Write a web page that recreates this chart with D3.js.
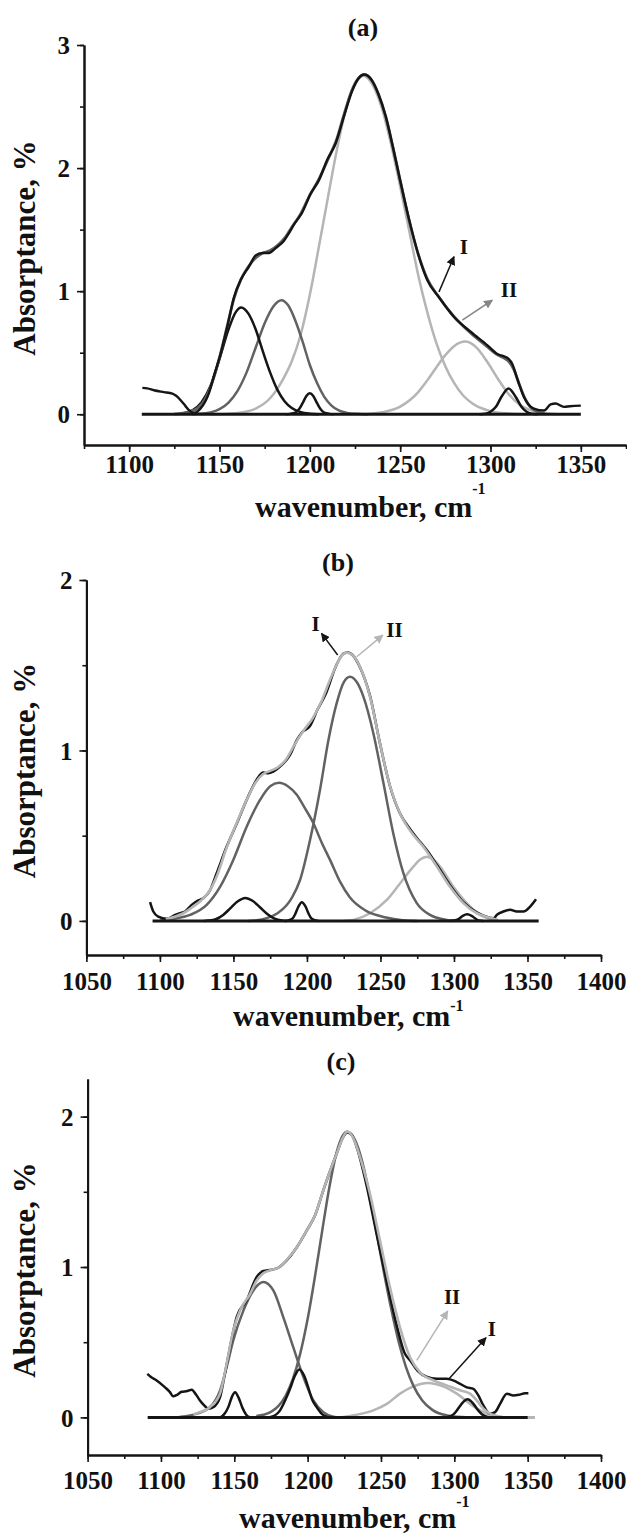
<!DOCTYPE html>
<html>
<head>
<meta charset="utf-8">
<script src="https://cdn.jsdelivr.net/npm/d3@7"></script>
<style>
  body { margin: 0; background: #fff; }
  svg { display: block; }
  text { font-family: 'Liberation Serif', 'Times New Roman', serif; font-weight: bold; fill: #111; }
</style>
</head>
<body>
<svg id="chart" width="627" height="1533"></svg>
<script>
// ---- panel (a) ----
const aMeasured = [[1107.3,0.214],[1110,0.21],[1113.7,0.195],[1119.2,0.18],[1123.9,0.168],[1126,0.15],[1128.5,0.114],[1131,0.07],[1133.1,0.033],[1135.8,0.01],[1139.5,0.046],[1144.1,0.17],[1147.3,0.33],[1150.6,0.49],[1154.3,0.71],[1158,0.95],[1161.7,1.09],[1166.3,1.2],[1170,1.29],[1173.7,1.31],[1177.4,1.31],[1181.1,1.35],[1185.7,1.41],[1188.4,1.47],[1191.2,1.54],[1195.8,1.64],[1200.4,1.79],[1205,1.9],[1209.7,2.07],[1214.3,2.2],[1218.9,2.42],[1223.5,2.63],[1227,2.73],[1230,2.76],[1234,2.72],[1238,2.6],[1242,2.42],[1246,2.17],[1250,1.9],[1255,1.58],[1260,1.3],[1265,1.09],[1271.5,0.95],[1279.8,0.79],[1289,0.67],[1298.3,0.56],[1303.8,0.49],[1307.5,0.47],[1310,0.45],[1312,0.41],[1315,0.28],[1318.5,0.14],[1321,0.08],[1324,0.046],[1329.6,0.03],[1333.3,0.08],[1336,0.087],[1340.7,0.06],[1344,0.065],[1350,0.07]]
const aEnvelope = [[1128,0.005],[1133,0.02],[1138,0.05],[1142,0.12],[1146,0.26],[1150,0.46],[1154,0.7],[1158,0.94],[1162,1.1],[1166,1.2],[1170,1.27],[1174,1.31],[1178,1.33],[1182,1.37],[1186,1.43],[1190,1.52],[1195,1.63],[1200,1.78],[1205,1.91],[1210,2.07],[1215,2.24],[1219,2.44],[1223,2.62],[1227,2.73],[1230,2.76],[1234,2.72],[1238,2.6],[1242,2.42],[1246,2.17],[1250,1.9],[1255,1.57],[1260,1.3],[1265,1.1],[1271,0.96],[1280,0.79],[1289,0.66],[1298,0.55],[1303,0.49],[1307,0.46],[1310,0.43],[1313,0.36],[1316,0.24],[1319,0.13],[1322,0.06],[1326,0.02],[1330,0.005]]
const aPeak1162 = [[1125,0.002],[1130,0.008],[1135,0.032],[1140,0.096],[1145,0.23],[1150,0.45],[1155,0.69],[1159,0.83],[1162,0.867],[1166,0.817],[1170,0.69],[1174,0.51],[1178,0.34],[1182,0.2],[1186,0.106],[1190,0.05],[1195,0.016],[1200,0.004],[1205,0]]
const aPeak1184 = [[1135,0],[1140,0.005],[1145,0.015],[1150,0.041],[1155,0.095],[1160,0.19],[1165,0.34],[1170,0.54],[1175,0.74],[1180,0.88],[1184.3,0.927],[1188,0.885],[1192,0.76],[1196,0.59],[1200,0.4],[1204,0.253],[1208,0.141],[1212,0.07],[1216,0.031],[1220,0.013],[1226,0.003],[1232,0]]
const aPeak1200 = [[1187,0],[1189,0.003],[1192,0.013],[1194,0.04],[1196,0.09],[1198,0.146],[1200,0.17],[1202,0.146],[1204,0.09],[1206,0.04],[1208,0.013],[1211,0.003],[1213,0]]
const aPeak1230 = [[1145,0],[1150,0.002],[1160,0.01],[1170,0.046],[1178,0.13],[1185,0.28],[1190,0.43],[1195,0.65],[1200,0.97],[1205,1.36],[1210,1.76],[1215,2.15],[1220,2.48],[1225,2.69],[1229.5,2.75],[1235,2.67],[1240,2.48],[1245,2.19],[1250,1.85],[1255,1.49],[1260,1.13],[1265,0.83],[1270,0.58],[1275,0.39],[1280,0.25],[1285,0.15],[1290,0.087],[1300,0.025],[1310,0.006],[1320,0]]
const aPeak1286 = [[1230,0],[1240,0.016],[1250,0.062],[1260,0.18],[1265,0.275],[1270,0.38],[1275,0.48],[1280,0.555],[1286,0.59],[1292,0.545],[1298,0.43],[1304,0.29],[1310,0.164],[1316,0.08],[1322,0.033],[1330,0.008],[1338,0]]
const aPeak1310 = [[1294,0],[1297,0.003],[1300,0.02],[1303,0.06],[1306,0.14],[1310,0.21],[1314,0.14],[1317,0.063],[1320,0.02],[1323,0.003],[1326,0]]
const aBaseline = [[1107,0],[1350,0]]

// ---- panel (b) ----
const bMeasured = [[1093.3,0.11],[1095.5,0.055],[1098.9,0.025],[1104.6,0.012],[1110.3,0.035],[1113.7,0.045],[1117.1,0.055],[1121.6,0.094],[1126.1,0.12],[1129.5,0.133],[1134.1,0.18],[1138.6,0.28],[1145.4,0.436],[1152.2,0.57],[1159,0.71],[1165.9,0.83],[1170.3,0.87],[1173.7,0.866],[1177.1,0.876],[1182.9,0.915],[1188.5,0.974],[1193.1,1.06],[1197,1.11],[1201.8,1.14],[1207.2,1.24],[1212.7,1.33],[1219.5,1.49],[1225,1.57],[1228,1.575],[1231,1.56],[1236,1.49],[1242.9,1.32],[1249.7,1.04],[1256.5,0.79],[1263.3,0.63],[1270.1,0.54],[1276.8,0.465],[1282,0.41],[1288.3,0.33],[1297.3,0.21],[1306.4,0.11],[1315.5,0.05],[1322,0.025],[1327,0.015],[1329.1,0.035],[1333.6,0.055],[1338.2,0.065],[1342.7,0.055],[1347.3,0.055],[1351.8,0.084],[1355.8,0.127]]
const bEnvelope = [[1104,0.01],[1110,0.025],[1116,0.045],[1122,0.08],[1128,0.12],[1134,0.18],[1139,0.27],[1145,0.42],[1152,0.57],[1159,0.71],[1165,0.81],[1170,0.86],[1175,0.88],[1180,0.9],[1186,0.95],[1192,1.04],[1198,1.12],[1204,1.19],[1210,1.29],[1215,1.4],[1220,1.5],[1224,1.56],[1227,1.574],[1231,1.56],[1236.1,1.49],[1242.9,1.316],[1249.7,1.04],[1256.5,0.79],[1263.3,0.63],[1270.1,0.53],[1279.1,0.436],[1288.3,0.32],[1297.3,0.2],[1306.4,0.104],[1315.5,0.045],[1324.6,0.018],[1330,0.005]]
const bPeak1158 = [[1130,0],[1133,0.002],[1138,0.01],[1143,0.035],[1148,0.075],[1153,0.115],[1158,0.135],[1163,0.118],[1168,0.08],[1173,0.04],[1178,0.013],[1183,0.002],[1186,0]]
const bPeak1197 = [[1185,0],[1187,0.002],[1190,0.012],[1192,0.04],[1194,0.08],[1196.5,0.11],[1199,0.085],[1201,0.045],[1203,0.015],[1206,0.002],[1208,0]]
const bPeak1181 = [[1100,0.002],[1105,0.005],[1109.1,0.012],[1120.5,0.035],[1131.8,0.094],[1140.9,0.2],[1149.9,0.358],[1159,0.553],[1168.1,0.71],[1175,0.79],[1181,0.81],[1187,0.79],[1193.1,0.74],[1198,0.67],[1204.4,0.573],[1210,0.46],[1215.7,0.358],[1222.5,0.23],[1229,0.14],[1240,0.06],[1253.7,0.02],[1265,0.004],[1275,0]]
const bPeak1229 = [[1160,0],[1165,0.003],[1172.7,0.016],[1180,0.045],[1186,0.09],[1190,0.14],[1195.3,0.24],[1202.1,0.475],[1208.9,0.77],[1214.6,1.06],[1220,1.27],[1225,1.4],[1229.3,1.433],[1234,1.4],[1238.4,1.316],[1245.2,1.1],[1252,0.81],[1258.8,0.51],[1265.6,0.28],[1274.7,0.104],[1283.7,0.035],[1295.1,0.006],[1300,0]]
const bPeak1281 = [[1225,0],[1231.6,0.006],[1242.9,0.045],[1254.3,0.123],[1263.3,0.22],[1272.4,0.318],[1277,0.36],[1281.5,0.377],[1286,0.36],[1290.6,0.318],[1299.6,0.2],[1308.7,0.104],[1317.8,0.035],[1324.6,0.01],[1330,0]]
const bPeak1309 = [[1297,0],[1299.6,0.002],[1303,0.01],[1306,0.03],[1309,0.039],[1312,0.03],[1315.5,0.008],[1318,0.001],[1320,0]]
const bBaseline = [[1095,0],[1357.6,0]]

// ---- panel (c) ----
const cMeasured = [[1090.7,0.29],[1093,0.27],[1097.1,0.246],[1102.8,0.2],[1106,0.17],[1108.4,0.14],[1111,0.15],[1114.1,0.17],[1118,0.175],[1121,0.184],[1124,0.15],[1126.6,0.113],[1129.5,0.08],[1132.3,0.058],[1135.7,0.068],[1140.3,0.135],[1143,0.26],[1147.1,0.467],[1151.6,0.667],[1158.5,0.78],[1165.3,0.933],[1169.8,0.973],[1175.5,0.982],[1180,0.995],[1185.7,1.044],[1192.5,1.13],[1199.4,1.243],[1205,1.343],[1210.7,1.51],[1215,1.63],[1220,1.76],[1224,1.86],[1227,1.895],[1230,1.88],[1234,1.78],[1240,1.55],[1247,1.22],[1254,0.9],[1261,0.6],[1266,0.43],[1269.8,0.38],[1275,0.31],[1281,0.27],[1288,0.257],[1294.8,0.257],[1301.7,0.235],[1308.5,0.2],[1313,0.19],[1316.4,0.146],[1319.8,0.08],[1324.4,0.025],[1327.8,0.035],[1331.2,0.09],[1335.8,0.158],[1340.3,0.146],[1344,0.15],[1348.3,0.16],[1350.5,0.16]]
const cEnvelope = [[1122,0.02],[1126.6,0.035],[1133.4,0.068],[1140.3,0.158],[1144.8,0.357],[1149.3,0.578],[1153.9,0.71],[1160.7,0.82],[1165.3,0.91],[1170,0.96],[1175,0.98],[1180,0.995],[1186,1.05],[1192.5,1.13],[1199.4,1.243],[1205,1.343],[1210.7,1.51],[1215,1.63],[1220,1.76],[1224,1.86],[1227,1.9],[1231,1.86],[1235.7,1.73],[1242.5,1.487],[1249.3,1.177],[1256.1,0.866],[1262.9,0.6],[1269.8,0.4],[1276.6,0.3],[1285.7,0.246],[1294.8,0.213],[1303.9,0.18],[1310.7,0.158],[1315.3,0.113],[1319.8,0.058],[1324.4,0.025],[1329,0.01],[1333,0.002]]
const cPeak1150 = [[1139,0],[1141,0.003],[1143,0.02],[1146,0.07],[1148.5,0.14],[1150.5,0.168],[1153,0.13],[1155.5,0.065],[1158,0.02],[1160,0.003],[1162,0]]
const cPeak1170 = [[1110,0],[1113,0.003],[1124.4,0.025],[1133.4,0.068],[1140.3,0.18],[1144.8,0.334],[1149.3,0.512],[1156.2,0.71],[1163,0.844],[1169.8,0.9],[1176.6,0.844],[1183.4,0.667],[1190.2,0.467],[1197.1,0.268],[1203.9,0.113],[1210.7,0.035],[1217.5,0.005],[1222,0]]
const cPeak1194 = [[1172,0],[1175.5,0.005],[1181.2,0.047],[1185,0.12],[1188,0.19],[1191,0.27],[1194.3,0.319],[1197.5,0.28],[1200.4,0.2],[1203,0.12],[1206.2,0.068],[1210,0.02],[1213,0.005],[1216,0]]
const cPeak1227 = [[1165,0.01],[1170,0.018],[1175,0.037],[1180,0.075],[1185,0.144],[1190,0.257],[1195,0.426],[1200,0.654],[1205,0.937],[1210,1.245],[1215,1.54],[1220,1.77],[1224,1.875],[1227,1.9],[1232,1.85],[1237,1.71],[1242,1.49],[1247,1.23],[1252,0.965],[1257,0.72],[1262,0.505],[1267,0.336],[1272,0.213],[1278,0.114],[1285,0.05],[1295,0.013],[1305,0.002],[1312,0]]
const cPeak1282 = [[1222,0],[1233.5,0.018],[1244.8,0.047],[1254,0.09],[1263,0.158],[1272.1,0.206],[1277,0.222],[1282.3,0.228],[1287,0.222],[1292.5,0.206],[1301.7,0.158],[1310.7,0.09],[1317.6,0.047],[1326.7,0.01],[1335,0]]
const cPeak1309 = [[1293,0],[1296,0.005],[1299.4,0.02],[1302,0.05],[1305,0.09],[1309,0.12],[1313,0.09],[1316,0.05],[1319,0.02],[1322.1,0.005],[1325,0]]
const cBaselineFit = [[1091,0],[1355,0]]
const cBaseline = [[1091,0],[1350,0]]

// tick values
const aXTicks = [1100, 1150, 1200, 1250, 1300, 1350]
const bcXTicks = [1050, 1100, 1150, 1200, 1250, 1300, 1350, 1400]
const aYTicks = [0, 1, 2, 3]
const bcYTicks = [0, 1, 2]

const BLACK = '#151515'
const DARK = '#626262'
const MID = '#858585'
const LIGHT = '#b5b5b5'

const svg = d3.select('#chart')

// arrowheads, one per colour
const defs = svg.append('defs')
;[['black', BLACK], ['mid', MID], ['light', LIGHT]].forEach(([id, c]) => {
  defs
    .append('marker')
    .attr('id', 'arrow-' + id)
    .attr('viewBox', '0 0 10 10')
    .attr('refX', 9)
    .attr('refY', 5)
    .attr('markerWidth', 9)
    .attr('markerHeight', 9)
    .attr('markerUnits', 'userSpaceOnUse')
    .attr('orient', 'auto')
    .append('path')
    .attr('d', 'M0,0 L10,5 L0,10 Z')
    .attr('fill', c)
})

const panels = [
  {
    title: '(a)',
    xDomain: [1075, 1375], xRange: [84, 626],
    yDomain: [-0.25, 3], yRange: [445, 45],
    xTicks: aXTicks, xMinor: d3.range(1075, 1376, 25),
    yTicks: aYTicks, yMinor: d3.range(0, 3.01, 0.5),
    labelOff: 28, titleOff: 72, supDy: -23, titleX: 255, titleCx: 363,
    curves: [
      { data: aPeak1230, color: LIGHT, w: 2.5 },
      { data: aPeak1286, color: LIGHT, w: 2.5 },
      { data: aPeak1184, color: DARK, w: 2.5 },
      { data: aPeak1162, color: BLACK, w: 2.5 },
      { data: aPeak1200, color: BLACK, w: 2.5 },
      { data: aPeak1310, color: BLACK, w: 2.5 },
      { data: aEnvelope, color: DARK, w: 2.8 },
      { data: aMeasured, color: BLACK, w: 2.4 },
      { data: aBaseline, color: BLACK, w: 3 },
    ],
    notes: [
      { text: 'I', at: [1285.3, 1.36], from: [1271.5, 0.994], to: [1279.8, 1.28], color: BLACK, m: 'black' },
      { text: 'II', at: [1310.2, 1.01], from: [1284.4, 0.764], to: [1301, 0.927], color: MID, m: 'mid' },
    ],
  },
  {
    title: '(b)',
    xDomain: [1050, 1400], xRange: [86.4, 601],
    yDomain: [-0.2, 2], yRange: [955, 580],
    xTicks: bcXTicks, xMinor: d3.range(1050, 1401, 25),
    yTicks: bcYTicks, yMinor: d3.range(0, 2.01, 0.5),
    labelOff: 35, titleOff: 71, supDy: -15, titleX: 233, titleCx: 338,
    curves: [
      { data: bPeak1281, color: LIGHT, w: 2.5 },
      { data: bPeak1181, color: DARK, w: 2.5 },
      { data: bPeak1229, color: DARK, w: 2.5 },
      { data: bPeak1158, color: BLACK, w: 2.5 },
      { data: bPeak1197, color: BLACK, w: 2.5 },
      { data: bPeak1309, color: BLACK, w: 2.5 },
      { data: bMeasured, color: BLACK, w: 2.5 },
      { data: bEnvelope, color: LIGHT, w: 2.6 },
      { data: bBaseline, color: BLACK, w: 3 },
    ],
    notes: [
      { text: 'I', at: [1205.9, 1.746], from: [1220.9, 1.56], to: [1209.9, 1.687], color: BLACK, m: 'black' },
      { text: 'II', at: [1259.5, 1.71], from: [1233.9, 1.55], to: [1251.6, 1.677], color: LIGHT, m: 'light' },
    ],
  },
  {
    title: '(c)',
    xDomain: [1050, 1400], xRange: [87.6, 601],
    yDomain: [-0.25, 2.25], yRange: [1455, 1079],
    xTicks: bcXTicks, xMinor: d3.range(1050, 1401, 25),
    yTicks: bcYTicks, yMinor: d3.range(0, 2.01, 0.5),
    labelOff: 34, titleOff: 73, supDy: -21, titleX: 239, titleCx: 341,
    curves: [
      { data: cPeak1282, color: LIGHT, w: 2.5 },
      { data: cPeak1170, color: DARK, w: 2.5 },
      { data: cPeak1227, color: DARK, w: 2.5 },
      { data: cPeak1150, color: BLACK, w: 2.5 },
      { data: cPeak1194, color: BLACK, w: 2.5 },
      { data: cPeak1309, color: BLACK, w: 2.5 },
      { data: cMeasured, color: BLACK, w: 2.5 },
      { data: cEnvelope, color: LIGHT, w: 2.6 },
      { data: cBaselineFit, color: LIGHT, w: 3 },
      { data: cBaseline, color: BLACK, w: 3 },
    ],
    notes: [
      { text: 'II', at: [1298.5, 0.8], from: [1274.4, 0.379], to: [1295.5, 0.707], color: LIGHT, m: 'light' },
      { text: 'I', at: [1325.5, 0.59], from: [1296.4, 0.257], to: [1321.6, 0.53], color: BLACK, m: 'black' },
    ],
  },
]

function drawPanel(p) {
  const x = d3.scaleLinear().domain(p.xDomain).range(p.xRange)
  const y = d3.scaleLinear().domain(p.yDomain).range(p.yRange)
  const g = svg.append('g')
  const y0 = p.yRange[0]
  const x0 = p.xRange[0]

  // minor ticks first, then the labelled axis on top
  g.append('g')
    .attr('transform', `translate(0,${y0})`)
    .call(d3.axisBottom(x).tickValues(p.xMinor).tickSize(4).tickSizeOuter(0).tickFormat(''))
  const xAxis = g.append('g')
    .attr('transform', `translate(0,${y0})`)
    .call(d3.axisBottom(x).tickValues(p.xTicks).tickSize(7).tickSizeOuter(0).tickFormat(d3.format('d')))
  xAxis.selectAll('text')
    .attr('y', p.labelOff)
    .attr('dy', 0)
    .style('font-size', '25px')

  g.append('g')
    .attr('transform', `translate(${x0},0)`)
    .call(d3.axisLeft(y).tickValues(p.yMinor).tickSize(4).tickSizeOuter(0).tickFormat(''))
  const yAxis = g.append('g')
    .attr('transform', `translate(${x0},0)`)
    .call(d3.axisLeft(y).tickValues(p.yTicks).tickSize(7).tickSizeOuter(0).tickFormat(d3.format('d')))
  yAxis.selectAll('text')
    .attr('x', -14)
    .attr('dy', '0.35em')
    .style('font-size', '25px')

  g.selectAll('.domain').attr('stroke', BLACK).attr('stroke-width', 2)
  g.selectAll('.tick line').attr('stroke', BLACK).attr('stroke-width', 1.6)
  g.selectAll('.tick text').attr('fill', BLACK).style('font-family', "'Liberation Serif', serif").style('font-weight', 'bold')

  // panel letter
  g.append('text')
    .attr('x', p.titleCx)
    .attr('y', p.yRange[1] - 9)
    .attr('text-anchor', 'middle')
    .style('font-size', '26px')
    .text(p.title)

  // axis titles
  const xt = g.append('text')
    .attr('x', p.titleX)
    .attr('y', y0 + p.titleOff)
    .style('font-size', '30px')
    .text('wavenumber, cm')
  xt.append('tspan').attr('dy', p.supDy).style('font-size', '16px').text('-1')

  g.append('text')
    .attr('transform', `translate(35,${(p.yRange[0] + p.yRange[1]) / 2 + 3}) rotate(-90)`)
    .attr('text-anchor', 'middle')
    .style('font-size', '31px')
    .text('Absorptance, %')

  // spectra
  const line = d3.line()
    .x(d => x(d[0]))
    .y(d => y(d[1]))
    .curve(d3.curveMonotoneX)
  p.curves.forEach(c => {
    g.append('path')
      .attr('d', line(c.data))
      .attr('fill', 'none')
      .attr('stroke', c.color)
      .attr('stroke-width', c.w)
      .attr('stroke-linejoin', 'round')
  })

  // I / II markers
  p.notes.forEach(n => {
    g.append('line')
      .attr('x1', x(n.from[0])).attr('y1', y(n.from[1]))
      .attr('x2', x(n.to[0])).attr('y2', y(n.to[1]))
      .attr('stroke', n.color)
      .attr('stroke-width', 1.5)
      .attr('marker-end', `url(#arrow-${n.m})`)
    g.append('text')
      .attr('x', x(n.at[0]))
      .attr('y', y(n.at[1]))
      .attr('dy', '0.35em')
      .attr('text-anchor', 'middle')
      .style('font-size', '21px')
      .text(n.text)
  })
}

panels.forEach(drawPanel)
</script>
</body>
</html>
